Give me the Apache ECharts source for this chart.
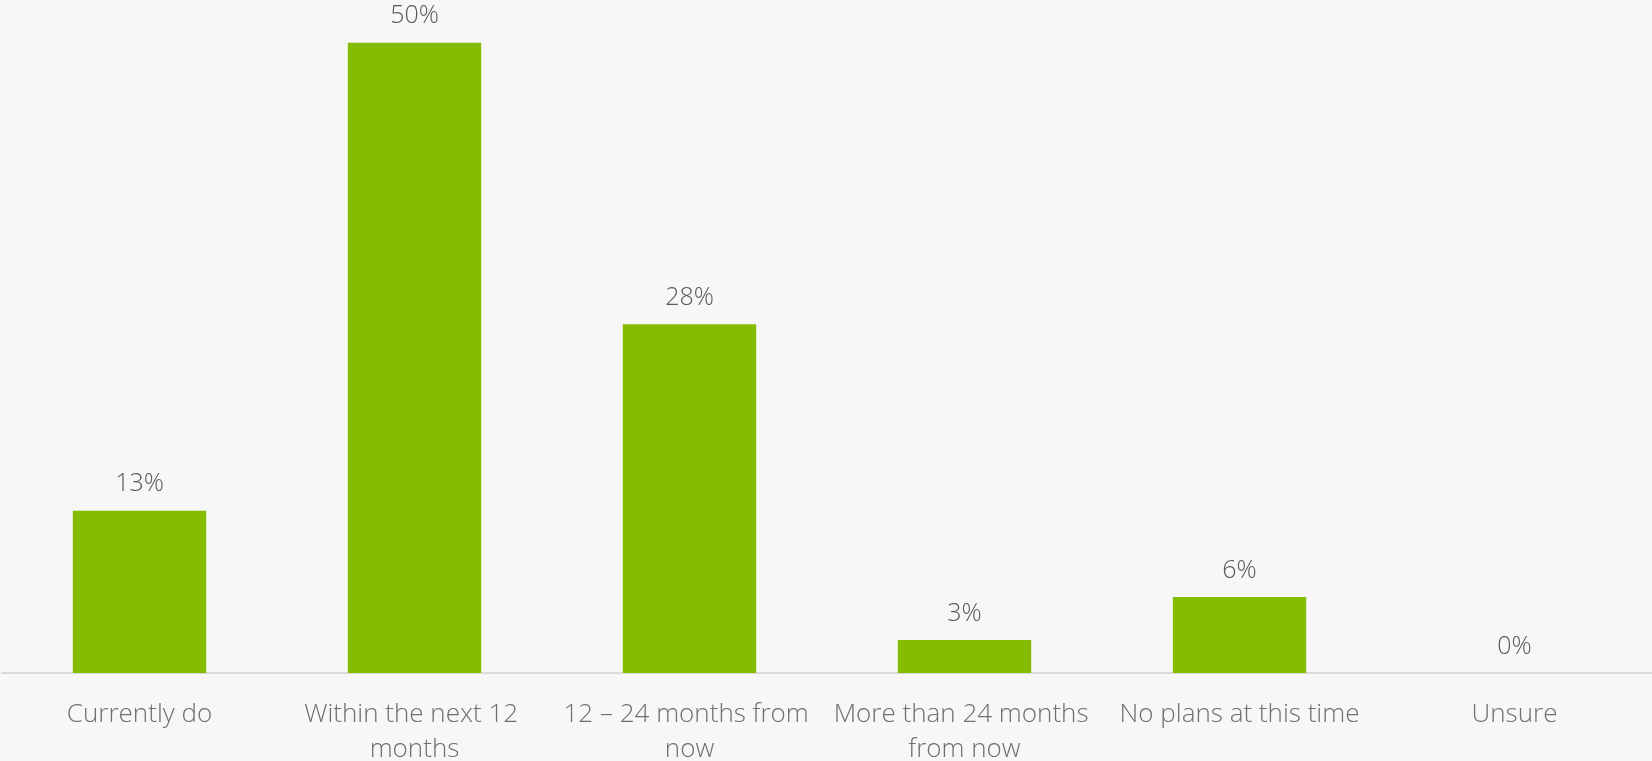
<!DOCTYPE html>
<html>
<head>
<meta charset="UTF-8">
<title>chart</title>
<script src="https://cdn.jsdelivr.net/npm/echarts@6/dist/echarts.min.js"></script>
<style>
  html, body { margin: 0; padding: 0; background: #f7f7f7; }
  #main { width: 1652px; height: 761px; }
</style>
</head>
<body>
<div id="main"></div>
<script type="text/javascript">
// categories and values
var categories = ['Currently do', 'Within the next 12 months', '12 \u2013 24 months from now', 'More than 24 months from now', 'No plans at this time', 'Unsure'];
var values = [12.8, 49.7, 27.5, 2.6, 6.0, 0];

var myChart = echarts.init(document.getElementById('main'));

var option = {
    backgroundColor: '#f7f7f7',
    animation: false,
    grid: { left: 2, right: 0, top: 39, bottom: 88, outerBoundsMode: 'none' },
    xAxis: {
        type: 'category',
        data: categories,
        axisLine: { lineStyle: { color: '#d9d9d9', width: 2 } },
        axisTick: { show: false },
        axisLabel: {
            interval: 0,
            margin: 24,
            width: 266,
            overflow: 'break',
            color: '#6f6f6f',
            fontFamily: 'Open Sans',
            fontWeight: 300,
            fontSize: 26,
            lineHeight: 35
        }
    },
    yAxis: {
        type: 'value',
        min: 0,
        max: 50,
        show: false,
        splitLine: { show: false }
    },
    series: [{
        type: 'bar',
        data: values,
        barWidth: '48.5%',
        itemStyle: { color: '#86bc00' },
        label: {
            show: true,
            position: 'top',
            distance: 14,
            color: '#595959',
            fontFamily: 'Open Sans',
            fontWeight: 300,
            fontSize: 25,
            formatter: function (p) { return Math.round(p.value) + '%'; }
        }
    }]
};
myChart.setOption(option);
</script>
</body>
</html>
